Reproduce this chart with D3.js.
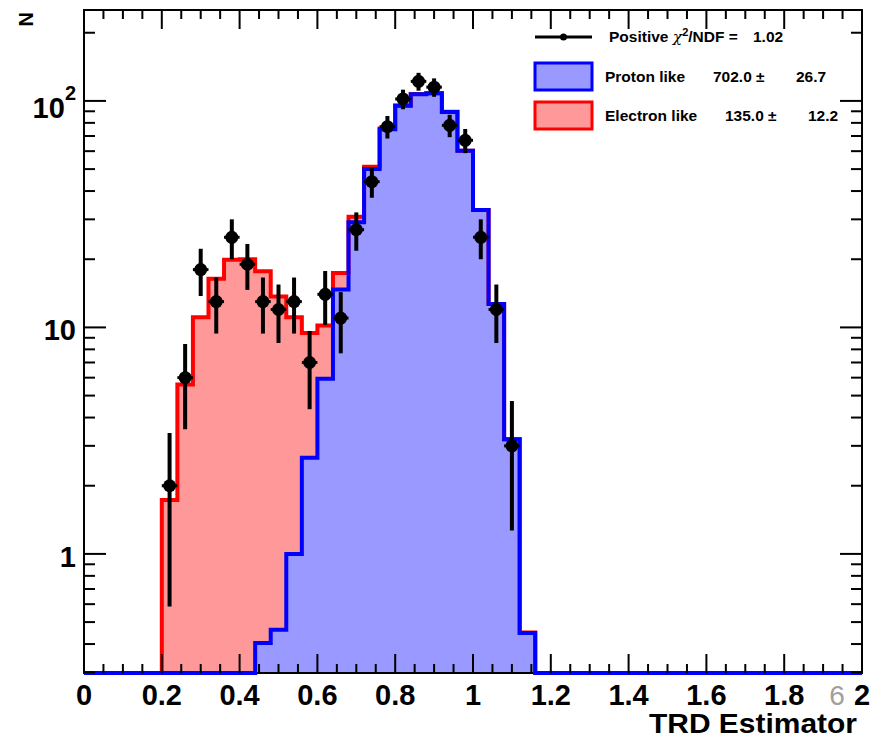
<!DOCTYPE html>
<html>
<head>
<meta charset="utf-8">
<script src="https://cdn.jsdelivr.net/npm/d3@7"></script>
<style>
  html, body { margin: 0; padding: 0; background: #fff; }
  svg { display: block; }
  text { font-family: "Liberation Sans", Arial, Helvetica, sans-serif; }
</style>
</head>
<body>
<div id="chart"></div>
<script>
// ---------------- data ----------------
const binWidth = 0.04;
// lower edges of the histogram bins that carry content
const binLow = [0.20, 0.24, 0.28, 0.32, 0.36, 0.40, 0.44, 0.48, 0.52, 0.56, 0.60, 0.64,
                0.68, 0.72, 0.76, 0.80, 0.84, 0.88, 0.92, 0.96, 1.00, 1.04, 1.08, 1.12];
// stacked total (proton + electron) fit template, drawn in red
const totalFit = [1.73, 5.6, 11.1, 16.4, 19.9, 20.0, 17.7, 13.7, 11.1, 9.44, 10.2, 17.4,
                  30.8, 51.2, 75.5, 95.4, 107.2, 108.2, 89.5, 60.3, 33.0, 12.7, 3.21, 0.45];
// proton-like fit template, drawn in blue
const protonFit = [0, 0, 0, 0, 0, 0, 0.404, 0.463, 1.0, 2.66, 5.94, 14.7,
                   29.1, 50.0, 75.0, 95.1, 107.0, 108.0, 89.4, 60.2, 33.0, 12.7, 3.21, 0.447];
// data points (bin centres, counts)
const dataX = [0.22, 0.26, 0.30, 0.34, 0.38, 0.42, 0.46, 0.50, 0.54, 0.58, 0.62, 0.66,
               0.70, 0.74, 0.78, 0.82, 0.86, 0.90, 0.94, 0.98, 1.02, 1.06, 1.10];
const dataN = [2, 6, 18, 13, 25, 19, 13, 12, 13, 7, 14, 11,
               27, 44, 77, 102, 122, 115, 78, 67, 25, 12, 3];

const xTickLabels = ["0", "0.2", "0.4", "0.6", "0.8", "1", "1.2", "1.4", "1.6", "1.8", "2"];
const xTickValues = [0, 0.2, 0.4, 0.6, 0.8, 1.0, 1.2, 1.4, 1.6, 1.8, 2.0];
const yMajor = [1, 10, 100];
const yMinor = [0.3, 0.4, 0.5, 0.6, 0.7, 0.8, 0.9, 2, 3, 4, 5, 6, 7, 8, 9,
                20, 30, 40, 50, 60, 70, 80, 90, 200];
const xMinorStep = 0.05;

const legendChi = "1.02";
const legendProton = ["Proton like", "702.0 \u00b1", "26.7"];
const legendElectron = ["Electron like", "135.0 \u00b1", "12.2"];

// ---------------- layout ----------------
const W = 883, H = 739;
const L = 84, R = 862, T = 10, B = 673;

const svg = d3.select("#chart").append("svg").attr("width", W).attr("height", H);

const x = d3.scaleLinear().domain([0, 2]).range([L, R]);
const y = d3.scaleLog().domain([0.298, 252]).range([B, T]);
const yc = v => (v <= y.domain()[0] ? B : Math.max(T, y(v)));

function stepPoints(vals) {
  const pts = [[x(0), B]];
  binLow.forEach((lo, i) => {
    const yy = yc(vals[i]);
    pts.push([x(lo), pts[pts.length - 1][1]]);
    pts.push([x(lo), yy]);
    pts.push([x(lo + binWidth), yy]);
  });
  pts.push([x(binLow[binLow.length - 1] + binWidth), B]);
  pts.push([x(2), B]);
  return pts;
}
const line = d3.line();

function drawHist(vals, fill) {
  const pts = stepPoints(vals);
  svg.append("path").attr("d", line(pts) + "Z").attr("fill", fill).attr("stroke", "none");
  return pts;
}

const redPts = drawHist(totalFit, "#ff9999");
const bluePts = drawHist(protonFit, "#9999ff");

// frame
svg.append("rect").attr("x", L).attr("y", T).attr("width", R - L).attr("height", B - T)
  .attr("fill", "none").attr("stroke", "#000").attr("stroke-width", 2);

svg.append("path").attr("d", line(redPts)).attr("fill", "none").attr("stroke", "#ff0000")
  .attr("stroke-width", 4).attr("stroke-linejoin", "miter");
svg.append("path").attr("d", line(bluePts)).attr("fill", "none").attr("stroke", "#0000ff")
  .attr("stroke-width", 4).attr("stroke-linejoin", "miter");

// ticks
const tickG = svg.append("g").attr("stroke", "#000").attr("stroke-width", 2);
const xMinor = d3.range(0, 2 + 1e-9, xMinorStep);
xMinor.forEach(v => {
  const major = Math.abs(v / 0.2 - Math.round(v / 0.2)) < 1e-6;
  const len = major ? 19 : 9;
  tickG.append("line").attr("x1", x(v)).attr("x2", x(v)).attr("y1", B).attr("y2", B - len);
  tickG.append("line").attr("x1", x(v)).attr("x2", x(v)).attr("y1", T).attr("y2", T + len);
});
yMajor.forEach(v => {
  tickG.append("line").attr("x1", L).attr("x2", L + 22).attr("y1", y(v)).attr("y2", y(v));
  tickG.append("line").attr("x1", R).attr("x2", R - 22).attr("y1", y(v)).attr("y2", y(v));
});
yMinor.forEach(v => {
  tickG.append("line").attr("x1", L).attr("x2", L + 11).attr("y1", y(v)).attr("y2", y(v));
  tickG.append("line").attr("x1", R).attr("x2", R - 11).attr("y1", y(v)).attr("y2", y(v));
});

// data points
const dg = svg.append("g");
dataX.forEach((cx, i) => {
  const n = dataN[i], e = Math.sqrt(n);
  const lo = Math.max(n - e, y.domain()[0]);
  dg.append("line").attr("x1", x(cx)).attr("x2", x(cx)).attr("y1", y(n + e)).attr("y2", y(lo))
    .attr("stroke", "#000").attr("stroke-width", 4);
  dg.append("line").attr("x1", x(cx - binWidth / 2)).attr("x2", x(cx + binWidth / 2))
    .attr("y1", y(n)).attr("y2", y(n)).attr("stroke", "#000").attr("stroke-width", 3);
  dg.append("circle").attr("cx", x(cx)).attr("cy", y(n)).attr("r", 6.5).attr("fill", "#000");
});

// axis labels
const lab = svg.append("g").attr("font-weight", "bold").attr("font-size", 29).attr("fill", "#000");
xTickValues.forEach((v, i) => {
  lab.append("text").attr("x", x(v)).attr("y", 705).attr("text-anchor", "middle").text(xTickLabels[i]);
});
lab.append("text").attr("x", 76).attr("y", y(1) + 13).attr("text-anchor", "end").text("1");
lab.append("text").attr("x", 76).attr("y", y(10) + 13).attr("text-anchor", "end").text("10");
const t100 = lab.append("text").attr("x", 76).attr("y", y(100) + 17).attr("text-anchor", "end");
t100.append("tspan").text("10");
t100.append("tspan").attr("font-size", 20).attr("dy", -18).text("2");

// stray grey label near x=1.9
svg.append("text").attr("x", 837).attr("y", 705).attr("text-anchor", "middle")
  .attr("font-size", 28).attr("fill", "#a0a0a0").text("6");

// axis titles
svg.append("text").attr("x", 857).attr("y", 733).attr("text-anchor", "end")
  .attr("font-weight", "bold").attr("font-size", 27)
  .attr("textLength", 208).attr("lengthAdjust", "spacingAndGlyphs").text("TRD Estimator");
svg.append("text").attr("transform", "translate(33,12) rotate(-90)").attr("text-anchor", "end")
  .attr("font-weight", "bold").attr("font-size", 20).text("N");

// legend
const lg = svg.append("g").attr("font-weight", "bold").attr("font-size", 15.5).attr("fill", "#000");
lg.append("line").attr("x1", 535).attr("x2", 592).attr("y1", 37).attr("y2", 37)
  .attr("stroke", "#000").attr("stroke-width", 3);
lg.append("circle").attr("cx", 563.5).attr("cy", 37).attr("r", 3.5).attr("fill", "#000");
const chi = lg.append("text").attr("x", 609).attr("y", 42);
chi.append("tspan").text("Positive ");
chi.append("tspan").attr("font-family", "'DejaVu Serif', serif").attr("font-style", "italic").attr("font-weight", "normal").text("\u03c7");
chi.append("tspan").attr("font-size", 11).attr("dy", -6).text("2");
chi.append("tspan").attr("dy", 6).text("/NDF =");
lg.append("text").attr("x", 753).attr("y", 42).text(legendChi);

lg.append("rect").attr("x", 535).attr("y", 63).attr("width", 57).attr("height", 27)
  .attr("fill", "#9999ff").attr("stroke", "#0000ff").attr("stroke-width", 3);
lg.append("rect").attr("x", 535).attr("y", 102).attr("width", 57).attr("height", 27)
  .attr("fill", "#ff9999").attr("stroke", "#ff0000").attr("stroke-width", 3);
lg.append("text").attr("x", 605).attr("y", 82).text(legendProton[0]);
lg.append("text").attr("x", 713).attr("y", 82).text(legendProton[1]);
lg.append("text").attr("x", 796).attr("y", 82).text(legendProton[2]);
lg.append("text").attr("x", 605).attr("y", 121).text(legendElectron[0]);
lg.append("text").attr("x", 725).attr("y", 121).text(legendElectron[1]);
lg.append("text").attr("x", 808).attr("y", 121).text(legendElectron[2]);
</script>
</body>
</html>
